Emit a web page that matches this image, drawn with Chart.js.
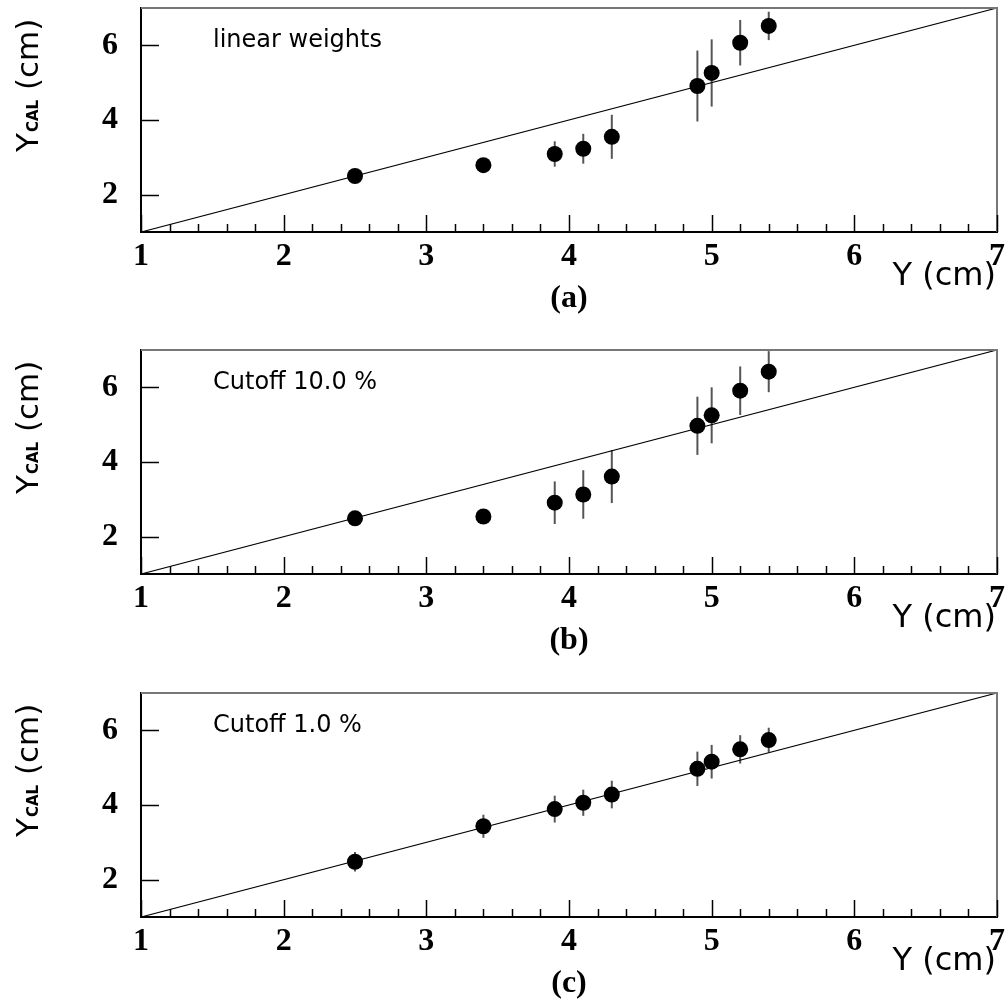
<!DOCTYPE html>
<html>
<head>
<meta charset="utf-8">
<script src="https://cdn.jsdelivr.net/npm/chart.js@4.4.0/dist/chart.umd.min.js"></script>
<style>
  html, body { margin: 0; padding: 0; background: #fff; overflow: hidden; }
  canvas { position: absolute; left: 0; }
</style>
</head>
<body>
<canvas id="panelA" width="1008" height="316" style="top:0px"></canvas>
<canvas id="panelB" width="1008" height="316" style="top:342px"></canvas>
<canvas id="panelC" width="1008" height="316" style="top:685px"></canvas>
<script>
// true beam position Y (cm)
const yTrue = [2.5, 3.4, 3.9, 4.1, 4.3, 4.9, 5.0, 5.2, 5.4];

// reconstructed Y_CAL (cm) and errors, per method
const yCalLinear = [2.50, 2.79, 3.09, 3.23, 3.55, 4.91, 5.26, 6.07, 6.52];
const errLinear  = [0.10, 0.10, 0.34, 0.40, 0.59, 0.95, 0.90, 0.61, 0.38];

const yCalCut10 = [2.49, 2.54, 2.91, 3.13, 3.61, 4.97, 5.25, 5.91, 6.42];
const errCut10  = [0.10, 0.10, 0.57, 0.65, 0.71, 0.78, 0.75, 0.65, 0.55];

const yCalCut1 = [2.48, 3.43, 3.89, 4.06, 4.28, 4.97, 5.16, 5.49, 5.74];
const errCut1  = [0.26, 0.31, 0.36, 0.35, 0.37, 0.46, 0.45, 0.38, 0.33];

// reference line Y_CAL = Y
const lineX = [1, 7];
const lineY = [1, 7];

const xTicks = [1, 2, 3, 4, 5, 6, 7];
const yTicks = [2, 4, 6];
const xMinorStep = 0.2;

const serif = '"Liberation Serif", "Times New Roman", serif';
const sans = '"DejaVu Sans", sans-serif';

const panelDeco = {
  id: 'panelDeco',
  beforeDatasetsDraw(chart, args, opts) {
    const ctx = chart.ctx;
    const xs = chart.scales.x, ys = chart.scales.y;
    ctx.save();
    ctx.strokeStyle = '#555';
    ctx.lineWidth = 2;
    yTrue.forEach((v, i) => {
      const px = xs.getPixelForValue(v);
      ctx.beginPath();
      ctx.moveTo(px, ys.getPixelForValue(opts.values[i] - opts.errors[i]));
      ctx.lineTo(px, ys.getPixelForValue(opts.values[i] + opts.errors[i]));
      ctx.stroke();
    });
    ctx.restore();
  },
  afterDraw(chart, args, opts) {
    const ctx = chart.ctx;
    const a = chart.chartArea;
    const xs = chart.scales.x, ys = chart.scales.y;
    ctx.save();

    // top and right frame
    ctx.strokeStyle = '#777';
    ctx.lineWidth = 2;
    ctx.beginPath();
    ctx.moveTo(a.left, a.top);
    ctx.lineTo(a.right, a.top);
    ctx.lineTo(a.right, a.bottom);
    ctx.stroke();

    // inward ticks
    ctx.strokeStyle = '#000';
    ctx.lineWidth = 1.5;
    const nMinor = Math.round((xs.max - xs.min) / xMinorStep);
    for (let k = 0; k <= nMinor; k++) {
      const px = Math.round(xs.getPixelForValue(xs.min + k * xMinorStep)) + 0.5;
      const len = k % 5 === 0 ? 17 : 8;
      ctx.beginPath();
      ctx.moveTo(px, a.bottom);
      ctx.lineTo(px, a.bottom - len);
      ctx.stroke();
    }
    yTicks.forEach(v => {
      const py = Math.round(ys.getPixelForValue(v)) + 0.5;
      ctx.beginPath();
      ctx.moveTo(a.left, py);
      ctx.lineTo(a.left + 18, py);
      ctx.stroke();
    });

    ctx.fillStyle = '#000';

    // note inside frame
    ctx.font = '24px ' + sans;
    ctx.textAlign = 'left';
    ctx.textBaseline = 'alphabetic';
    ctx.fillText(opts.note, a.left + 72, a.top + 39);

    // x title
    ctx.font = '32px ' + sans;
    ctx.textAlign = 'right';
    ctx.fillText('Y (cm)', 996, a.bottom + 53);

    // panel tag
    ctx.font = 'bold 32px ' + serif;
    ctx.textAlign = 'center';
    ctx.fillText(opts.tag, 569, a.bottom + 75);

    // y title, rotated, with CAL subscript
    ctx.translate(38, a.top + 144);
    ctx.rotate(-Math.PI / 2);
    ctx.textAlign = 'left';
    ctx.font = '31px ' + sans;
    ctx.fillText('Y', 0, 0);
    let w = ctx.measureText('Y').width + 1;
    ctx.font = 'bold 15px ' + sans;
    ctx.fillText('CAL', w, 0);
    w += ctx.measureText('CAL').width;
    ctx.font = '31px ' + sans;
    ctx.fillText(' (cm)', w, 0);

    ctx.restore();
  }
};

function makePanel(id, values, errors, note, tag) {
  return new Chart(document.getElementById(id), {
    type: 'scatter',
    data: {
      datasets: [
        {
          data: yTrue.map((v, i) => ({ x: v, y: values[i] })),
          pointRadius: 8,
          pointHoverRadius: 8,
          backgroundColor: '#000',
          borderWidth: 0,
          showLine: false,
          order: 0
        },
        {
          data: lineX.map((v, i) => ({ x: v, y: lineY[i] })),
          showLine: true,
          borderColor: '#000',
          borderWidth: 1.2,
          pointRadius: 0,
          order: 1
        }
      ]
    },
    options: {
      responsive: false,
      animation: false,
      layout: { padding: { top: 4, right: 11, left: 0, bottom: 0 } },
      plugins: {
        legend: { display: false },
        tooltip: { enabled: false },
        panelDeco: { values: values, errors: errors, note: note, tag: tag }
      },
      scales: {
        x: {
          type: 'linear',
          min: 1,
          max: 7,
          afterBuildTicks: s => { s.ticks = xTicks.map(v => ({ value: v })); },
          afterFit: s => { s.height = 84; s.paddingLeft = 0; s.paddingRight = 0; },
          grid: { display: false, drawTicks: false },
          border: { display: true, color: '#000', width: 2 },
          ticks: {
            color: '#000',
            font: { family: serif, size: 32, weight: 'bold' },
            padding: 6,
            maxRotation: 0,
            autoSkip: false
          }
        },
        y: {
          type: 'linear',
          min: 1,
          max: 7,
          afterBuildTicks: s => { s.ticks = yTicks.map(v => ({ value: v })); },
          afterFit: s => { s.width = 141; s.paddingTop = 0; s.paddingBottom = 0; },
          grid: { display: false, drawTicks: false },
          border: { display: true, color: '#000', width: 2 },
          ticks: {
            color: '#000',
            font: { family: serif, size: 32, weight: 'bold' },
            padding: 23
          }
        }
      }
    },
    plugins: [panelDeco]
  });
}

makePanel('panelA', yCalLinear, errLinear, 'linear weights', '(a)');
makePanel('panelB', yCalCut10, errCut10, 'Cutoff 10.0 %', '(b)');
makePanel('panelC', yCalCut1, errCut1, 'Cutoff 1.0 %', '(c)');
</script>
</body>
</html>
